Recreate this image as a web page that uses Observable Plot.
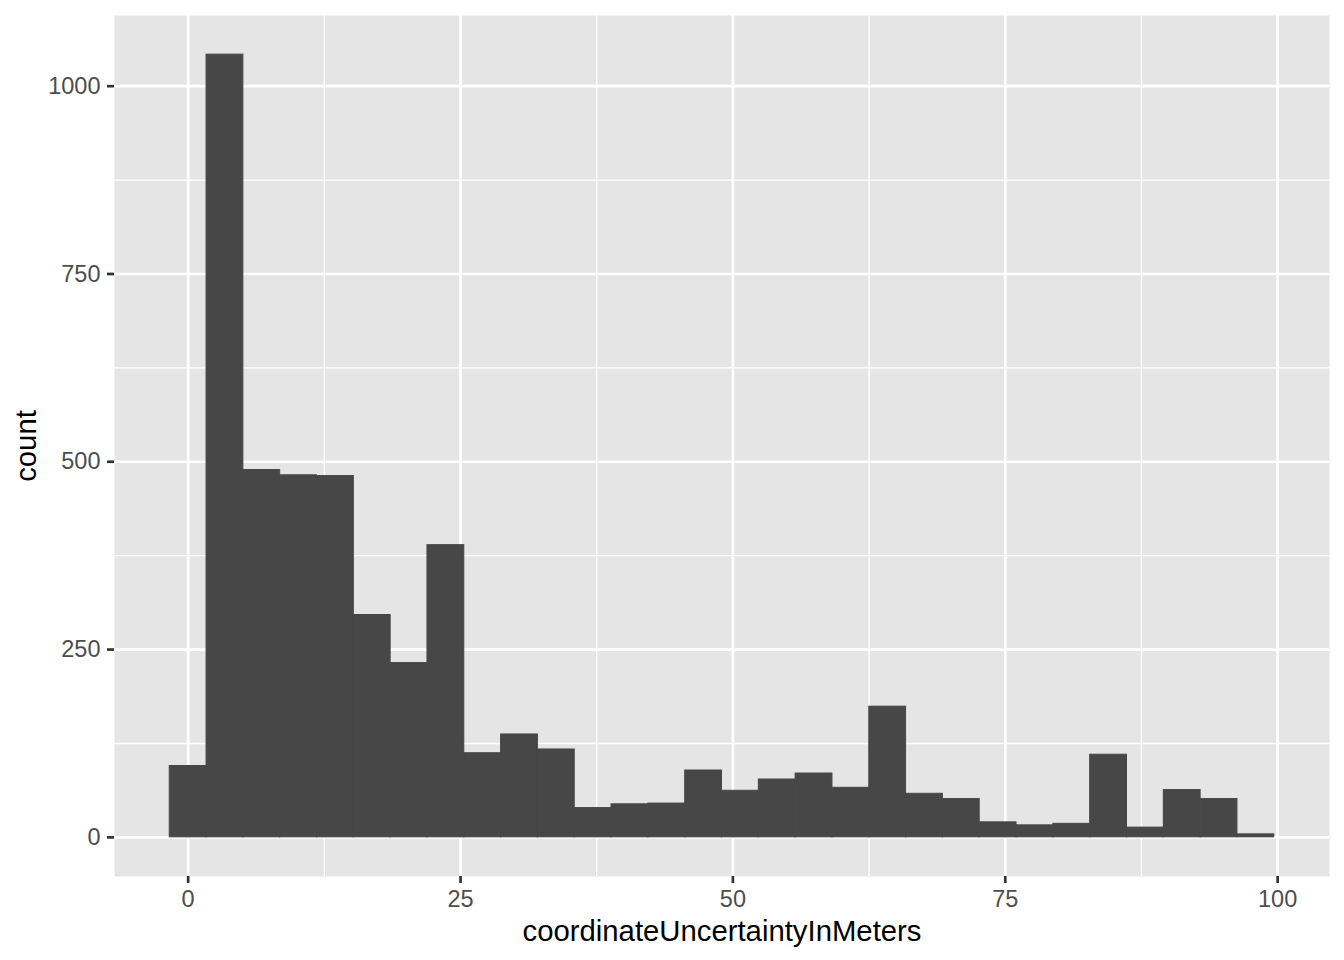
<!DOCTYPE html>
<html>
<head>
<meta charset="utf-8">
<script src="https://cdn.jsdelivr.net/npm/d3@7"></script>
<script src="https://cdn.jsdelivr.net/npm/@observablehq/plot@0.6"></script>
<style>
  body { margin: 0; background: white; }
</style>
</head>
<body>
<div id="chart"></div>
<script>
// histogram counts, 30 bins (ggplot default), data range 0..98
const counts = [95, 1042, 489, 482, 481, 296, 232, 389, 112, 137, 117, 39, 44, 45, 89,
  62, 77, 85, 66, 174, 58, 51, 20, 16, 18, 110, 13, 63, 51, 4];
const binWidth = 98 / 29;
const xTicks = [0, 25, 50, 75, 100];
const xMinor = [12.5, 37.5, 62.5, 87.5];
const yTicks = [0, 250, 500, 750, 1000];
const yMinor = [125, 375, 625, 875];

const bins = counts.map((count, i) => ({
  x1: (i - 0.5) * binWidth,
  x2: (i + 0.5) * binWidth,
  count
}));

const barColor = "#474747";

let chart = Plot.plot({
  width: 1344,
  height: 960,
  marginLeft: 114,
  marginRight: 15,
  marginTop: 15,
  marginBottom: 84,
  x: { domain: [-6.76, 104.76] },
  y: { domain: [-52.1, 1094.1] },
  style: {
    fontFamily: "Liberation Sans, Arial, sans-serif",
    background: "white",
    color: "black"
  },
  marks: [
    Plot.frame({ fill: "#E5E5E5", stroke: null }),
    Plot.gridX(xMinor, { stroke: "white", strokeOpacity: 1, strokeWidth: 1.4 }),
    Plot.gridY(yMinor, { stroke: "white", strokeOpacity: 1, strokeWidth: 1.4 }),
    Plot.gridX(xTicks, { stroke: "white", strokeOpacity: 1, strokeWidth: 2.7 }),
    Plot.gridY(yTicks, { stroke: "white", strokeOpacity: 1, strokeWidth: 2.7 }),
    Plot.rectY(bins, { x1: "x1", x2: "x2", y: "count", fill: barColor, stroke: barColor, strokeWidth: 1 }),
    Plot.axisX(xTicks, {
      tickSize: 7, tickPadding: 7, fontSize: 23.5, tickFormat: d => String(d),
      stroke: "#333333", strokeWidth: 2.7, fill: "#4D4D4D", label: null
    }),
    Plot.axisY(yTicks, {
      tickSize: 7, tickPadding: 7, fontSize: 23.5, tickFormat: d => String(d),
      stroke: "#333333", strokeWidth: 2.7, fill: "#4D4D4D", label: null
    }),
    Plot.text(["coordinateUncertaintyInMeters"], {
      frameAnchor: "bottom", textAnchor: "middle", lineAnchor: "bottom", dy: 64,
      fontSize: 29.3, fill: "black"
    }),
    Plot.text(["count"], {
      frameAnchor: "left", textAnchor: "middle", lineAnchor: "bottom", rotate: -90, dx: -79,
      fontSize: 29.3, fill: "black"
    })
  ]
});

d3.select('#chart').append(() => chart);
</script>
</body>
</html>
